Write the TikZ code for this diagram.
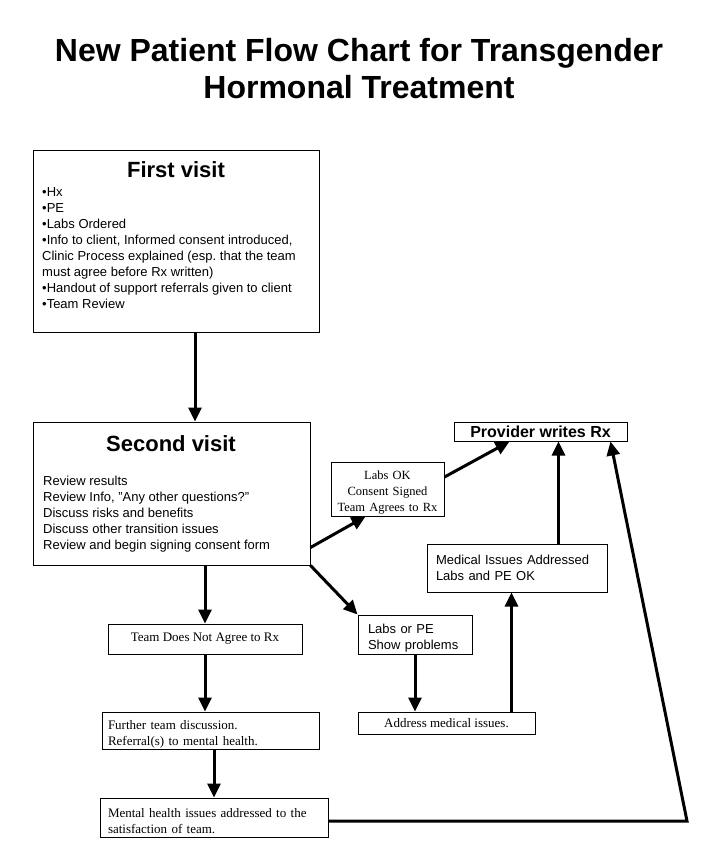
\documentclass[tikz,border=0pt]{standalone}
\usepackage{fontspec}
\setmainfont{Liberation Serif}
\setsansfont{Liberation Sans}
\frenchspacing
\usetikzlibrary{arrows.meta}
\usetikzlibrary{calc}

\begin{document}
\begin{tikzpicture}[x=1pt, y=-1pt,
  box/.style={draw, line width=1pt, inner sep=0pt, align=center},
  lbox/.style={draw, line width=1pt, inner ysep=0pt, align=left},
  low/.style={execute at begin node={\rule{0pt}{16pt}}},
  arr/.style={-{Triangle[length=14pt,width=13pt]}, line width=3pt},
  sans/.style={font=\sffamily\fontsize{13}{16}\selectfont},
  serif/.style={font=\rmfamily\fontsize{13}{16}\selectfont},
  head/.style={font=\sffamily\bfseries\fontsize{22}{26}\selectfont, anchor=base}]

\useasboundingbox (0,0) rectangle (719,863);

\node[font=\sffamily\bfseries\fontsize{32}{37}\selectfont, align=center, anchor=north, inner sep=0pt] (title) at (359,38)
  {New Patient Flow Chart for Transgender\\Hormonal Treatment};

% visits
\node[box, minimum width=286, minimum height=182] (first) at (176,241) {};
\node[head] (firstttl) at (176,177) {First visit};
\node[sans, align=left, anchor=north west, inner sep=0pt] (firsttxt) at (42,187)
  {•Hx\\•PE\\•Labs Ordered\\•Info to client, Informed consent introduced,\\
   Clinic Process explained (esp. that the team\\must agree before Rx written)\\
   •Handout of support referrals given to client\\•Team Review};

\node[box, minimum width=277, minimum height=143] (second) at (171.5,493.5) {};
\node[head] (secondttl) at (171,451) {Second visit};
\node[sans, align=left, anchor=north west, inner sep=0pt] (secondtxt) at (43,476)
  {Review results\\Review Info, "Any other questions?"\\Discuss risks and benefits\\
   Discuss other transition issues\\Review and begin signing consent form};

% outcomes
\node[box, minimum width=173, minimum height=19, font=\sffamily\bfseries\fontsize{16}{18}\selectfont] (provider) at (540.5,431.5) {Provider writes Rx};
\node[lbox, low, align=center, inner xsep=4pt, text width=105pt, minimum height=54,
  font=\rmfamily\fontsize{12.5}{16}\selectfont] (labsok) at (387.5,489) {Labs OK\\Consent Signed\\Team Agrees to Rx};
\node[lbox, sans, inner xsep=9pt, text width=162pt, minimum height=48] (medical) at (517,568) {Medical Issues Addressed\\Labs and PE OK};
\node[box, serif, minimum width=194, minimum height=30] (tdna) at (205,639) {Team Does Not Agree to Rx};
\node[lbox, sans, low, inner xsep=10pt, text width=94pt, minimum height=39] (labspe) at (415,634.5) {Labs or PE\\Show problems};
\node[box, serif, minimum width=177, minimum height=22] (address) at (446.5,723) {Address medical issues.};
\node[lbox, serif, low, inner xsep=6pt, text width=205pt, minimum height=37] (further) at (210.5,730.5) {Further team discussion.\\Referral(s) to mental health.};
\node[lbox, serif, low, inner xsep=8pt, text width=212pt, minimum height=39] (mental) at (214,817.5) {Mental health issues addressed to the\\satisfaction of team.};

\coordinate (m1) at ($(medical.south)+(-5.5,0)$);
\coordinate (m2) at ($(medical.north)+(41.5,0)$);
\coordinate (corner) at (687,821);

\draw[arr] ($(first.south)+(19,0)$) -- ($(second.north)+(23.5,0)$);
\draw[arr] (second.south -| tdna.north) -- (tdna.north);
\draw[arr] (tdna.south) -- (tdna.south |- further.north);
\draw[arr] (further.south -| mental.north) -- (mental.north);
\draw[arr] (labspe.south) -- (labspe.south |- address.north);
\draw[arr] (address.north -| m1) -- (m1);
\draw[arr] (m2) -- (m2 |- provider.south);
\draw[arr] ($(second.south east)+(0,-18)$) -- ($(labsok.south west)+(35,0)$);
\draw[arr] ($(labsok.east)+(0,-12)$) -- ($(provider.south west)+(56,0)$);
\draw[arr] (second.south east) -- (labspe.north west);
\draw[arr] ($(mental.east)+(0,3.5)$) -- (corner) -- ($(provider.south east)+(-17,0)$);

\end{tikzpicture}
\end{document}
